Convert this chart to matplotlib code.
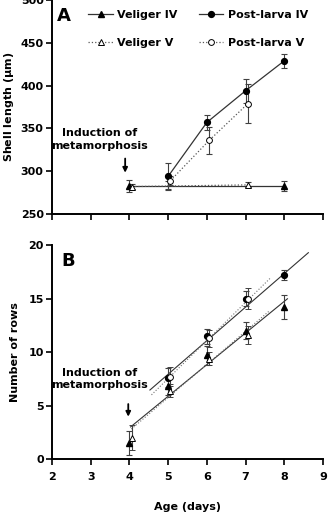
import matplotlib
matplotlib.use("Agg")
import matplotlib.pyplot as plt
import numpy as np

plt.rcParams["font.family"] = ["DejaVu Sans"]
plt.rcParams["font.weight"] = "bold"
plt.rcParams["mathtext.default"] = "regular"

# ---- panel A: shell length (um) ----------------------------------------------
A_vel4_x = [4, 5, 8]
A_vel4_y = [283, 283, 283]
A_vel4_e = [7, 5, 6]
A_vel5_x = [4, 7]
A_vel5_y = [282, 284]
A_vel5_e = [3, 3]
A_pl4_x = [5, 6, 7, 8]
A_pl4_y = [294, 357, 394, 429]
A_pl4_e = [15, 9, 14, 8]
A_pl5_x = [5, 6, 7]
A_pl5_y = [289, 336, 379]
A_pl5_e = [5, 16, 23]

# ---- panel B: number of rows --------------------------------------------------
B_vel4_x = [4, 5, 6, 7, 8]
B_vel4_y = [1.5, 6.8, 9.7, 12.0, 14.2]
B_vel4_e = [1.1, 0.8, 0.9, 0.8, 1.1]
B_vel5_x = [4, 5, 6, 7]
B_vel5_y = [2.0, 6.4, 9.4, 11.6]
B_vel5_e = [1.2, 0.6, 0.6, 0.8]
B_pl4_x = [5, 6, 7, 8]
B_pl4_y = [7.6, 11.5, 15.0, 17.2]
B_pl4_e = [0.9, 0.7, 0.7, 0.5]
B_pl5_x = [5, 6, 7]
B_pl5_y = [7.7, 11.3, 15.0]
B_pl5_e = [0.9, 0.8, 1.0]

# linear fits drawn in B: (x start, x end, slope, intercept)
FIT_pl4 = (4.53, 8.62, 3.14, -7.77)
FIT_pl5 = (4.57, 7.63, 3.56, -10.27)
FIT_vel4 = (4.03, 8.08, 2.96, -8.93)
FIT_vel5 = (4.05, 7.60, 3.10, -9.75)

LABELS = ["Veliger IV", "Veliger V", "Post-larva IV", "Post-larva V"]
XTICKS = [2, 3, 4, 5, 6, 7, 8, 9]

DX = 0.06                      # small dodge for the "V" series
FS = 8
EB = dict(ecolor="0.25", elinewidth=0.8, capsize=2.0, capthick=0.8)
MS_T, MS_C = 4.5, 4.2

fig = plt.figure(figsize=(3.31, 5.14), dpi=100)
axA = fig.add_axes([0.157, 0.5837, 0.819, 0.4163])
axB = fig.add_axes([0.157, 0.107, 0.819, 0.416])


def style(ax):
    for s in ("top", "right"):
        ax.spines[s].set_visible(False)
    for s in ("left", "bottom"):
        ax.spines[s].set_linewidth(1.4)
    ax.tick_params(direction="out", length=4, width=1.2, labelsize=FS, pad=2)
    ax.set_xlim(2, 9)
    ax.set_xticks(XTICKS)


# ---- A ----
style(axA)
axA.errorbar(A_vel4_x, A_vel4_y, yerr=A_vel4_e, fmt="none", **EB)
axA.errorbar(np.add(A_vel5_x, DX), A_vel5_y, yerr=A_vel5_e, fmt="none", **EB)
axA.errorbar(A_pl4_x, A_pl4_y, yerr=A_pl4_e, fmt="none", **EB)
axA.errorbar(np.add(A_pl5_x, DX), A_pl5_y, yerr=A_pl5_e, fmt="none", **EB)
h1, = axA.plot(A_vel4_x, A_vel4_y, "-", color="0.2", lw=0.9, marker="^", ms=MS_T,
               mfc="k", mec="k", markevery=[0, 2])
h2, = axA.plot(np.add(A_vel5_x, DX), A_vel5_y, ":", color="0.35", lw=0.9, marker="^",
               ms=MS_T, mfc="white", mec="k", mew=0.7)
h3, = axA.plot(A_pl4_x, A_pl4_y, "-", color="0.2", lw=0.9, marker="o", ms=MS_C,
               mfc="k", mec="k")
h4, = axA.plot(np.add(A_pl5_x, DX), A_pl5_y, ":", color="0.35", lw=0.9, marker="o",
               ms=MS_C, mfc="white", mec="k", mew=0.7)
axA.set_ylim(250, 500)
axA.set_yticks(range(250, 501, 50))
axA.tick_params(axis="x", labelbottom=False)
axA.set_ylabel("Shell length ($\\mu$m)", fontsize=FS, fontweight="bold", labelpad=3)
axA.text(0.02, 0.925, "A", transform=axA.transAxes, fontsize=13, fontweight="bold",
         va="center", ha="left")
axA.legend([h1, h2, h3, h4], LABELS, loc="upper left", bbox_to_anchor=(0.11, 0.985),
           ncol=2, frameon=False, fontsize=FS, handlelength=2.2, handletextpad=0.4,
           columnspacing=1.9, labelspacing=1.6, borderaxespad=0.2)
axA.text(3.24, 337, "Induction of\nmetamorphosis", ha="center", va="center",
         fontsize=FS, fontweight="bold", linespacing=1.3)
axA.annotate("", xy=(3.89, 295), xytext=(3.89, 318),
             arrowprops=dict(arrowstyle="-|>", color="k", lw=1.3,
                             mutation_scale=7))

# ---- B ----
style(axB)
for fit, ls, col in ((FIT_pl4, "-", "0.2"), (FIT_pl5, ":", "0.45"),
                     (FIT_vel4, "-", "0.2"), (FIT_vel5, ":", "0.45")):
    xs = np.array(fit[:2])
    axB.plot(xs, fit[2] * xs + fit[3], ls, color=col, lw=0.8)
axB.errorbar(B_vel4_x, B_vel4_y, yerr=B_vel4_e, fmt="^", ms=MS_T, mfc="k", mec="k", **EB)
axB.errorbar(np.add(B_vel5_x, DX), B_vel5_y, yerr=B_vel5_e, fmt="^", ms=MS_T,
             mfc="white", mec="k", mew=0.7, **EB)
axB.errorbar(B_pl4_x, B_pl4_y, yerr=B_pl4_e, fmt="o", ms=MS_C, mfc="k", mec="k", **EB)
axB.errorbar(np.add(B_pl5_x, DX), B_pl5_y, yerr=B_pl5_e, fmt="o", ms=MS_C,
             mfc="white", mec="k", mew=0.7, **EB)
axB.set_ylim(0, 20)
axB.set_yticks(range(0, 21, 5))
axB.set_xticklabels([str(t) for t in XTICKS], fontweight="bold")
axB.tick_params(axis="x", pad=5)
axB.set_ylabel("Number of rows", fontsize=FS, fontweight="bold", labelpad=6)
axB.set_xlabel("Age (days)", fontsize=FS, fontweight="bold", labelpad=15)
axB.text(0.035, 0.925, "B", transform=axB.transAxes, fontsize=13, fontweight="bold",
         va="center", ha="left")
axB.text(3.24, 7.5, "Induction of\nmetamorphosis", ha="center", va="center",
         fontsize=FS, fontweight="bold", linespacing=1.3)
axB.annotate("", xy=(3.97, 3.7), xytext=(3.97, 5.4),
             arrowprops=dict(arrowstyle="-|>", color="k", lw=1.3,
                             mutation_scale=7))

for ax in (axA, axB):
    for lab in ax.get_yticklabels() + ax.get_xticklabels():
        lab.set_fontweight("bold")

fig.savefig("out.png", dpi=100)
